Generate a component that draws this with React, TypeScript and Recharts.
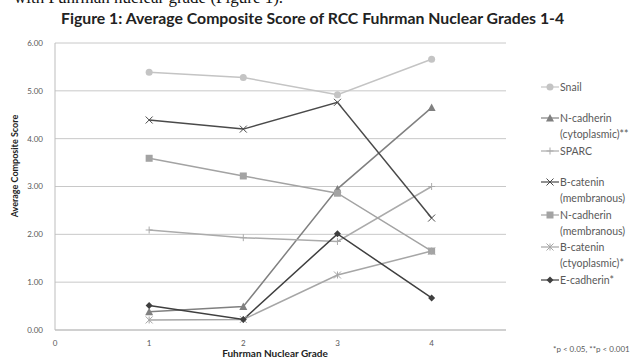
import type { ReactElement } from "react";
import { LineChart, Line, XAxis, YAxis, CartesianGrid } from "recharts";

// Fuhrman nuclear grade on x, average composite score on y
const grades = [1, 2, 3, 4];
const snail = [5.39, 5.28, 4.92, 5.66];
const nCadCyto = [0.38, 0.49, 2.95, 4.65];
const sparc = [2.09, 1.93, 1.85, 3.0];
const bCatMemb = [4.39, 4.2, 4.76, 2.34];
const nCadMemb = [3.59, 3.22, 2.86, 1.65];
const bCatCyto = [0.21, 0.22, 1.15, 1.65];
const eCad = [0.51, 0.22, 2.01, 0.67];

const yTicks = [0, 1, 2, 3, 4, 5, 6];
const xTicks = [0, 1, 2, 3, 4];

type Shape = "circle" | "triangle" | "plus" | "x" | "square" | "star" | "diamond";

interface SeriesDef {
  key: string;
  lines: string[];
  color: string;
  shape: Shape;
  values: number[];
}

const series: SeriesDef[] = [
  { key: "snail", lines: ["Snail"], color: "#c4c4c4", shape: "circle", values: snail },
  { key: "nCadCyto", lines: ["N-cadherin", "(cytoplasmic)**"], color: "#808080", shape: "triangle", values: nCadCyto },
  { key: "sparc", lines: ["SPARC"], color: "#ababab", shape: "plus", values: sparc },
  { key: "bCatMemb", lines: ["B-catenin", "(membranous)"], color: "#4a4a4a", shape: "x", values: bCatMemb },
  { key: "nCadMemb", lines: ["N-cadherin", "(membranous)"], color: "#a3a3a3", shape: "square", values: nCadMemb },
  { key: "bCatCyto", lines: ["B-catenin", "(ctyoplasmic)*"], color: "#a6a6a6", shape: "star", values: bCatCyto },
  { key: "eCad", lines: ["E-cadherin*"], color: "#3f3f3f", shape: "diamond", values: eCad },
];

const data = grades.map((g, i) => {
  const row: Record<string, number> = { grade: g };
  series.forEach((s) => {
    row[s.key] = s.values[i];
  });
  return row;
});

function Marker({ shape, cx, cy, color }: { shape: Shape; cx: number; cy: number; color: string }): ReactElement {
  const r = 3.5;
  switch (shape) {
    case "circle":
      return <circle cx={cx} cy={cy} r={r} fill={color} />;
    case "square":
      return <rect x={cx - r} y={cy - r} width={r * 2} height={r * 2} fill={color} />;
    case "triangle":
      return <path d={`M${cx},${cy - r - 0.5}L${cx + r + 0.5},${cy + r}L${cx - r - 0.5},${cy + r}Z`} fill={color} />;
    case "diamond":
      return <path d={`M${cx},${cy - r}L${cx + r},${cy}L${cx},${cy + r}L${cx - r},${cy}Z`} fill={color} />;
    case "plus":
      return <path d={`M${cx - r},${cy}H${cx + r}M${cx},${cy - r}V${cy + r}`} stroke={color} strokeWidth={1} />;
    case "x":
      return <path d={`M${cx - r},${cy - r}L${cx + r},${cy + r}M${cx + r},${cy - r}L${cx - r},${cy + r}`} stroke={color} strokeWidth={1} />;
    case "star":
      return (
        <path
          d={`M${cx - r},${cy - r}L${cx + r},${cy + r}M${cx + r},${cy - r}L${cx - r},${cy + r}M${cx},${cy - r}V${cy + r}`}
          stroke={color}
          strokeWidth={1}
        />
      );
  }
}

function LegendBlock(): ReactElement {
  const rowTops = [79, 110, 143, 174, 207, 239, 272];
  return (
    <div style={{ position: "absolute", left: 0, top: 0 }}>
      {series.map((s, i) => (
        <div key={s.key} style={{ position: "absolute", left: 541, top: rowTops[i], width: 95 }}>
          <svg width={18} height={12} style={{ position: "absolute", left: 0, top: 2 }}>
            <line x1={0} y1={6} x2={18} y2={6} stroke={s.color} strokeWidth={1.2} />
            <Marker shape={s.shape} cx={9} cy={6} color={s.color} />
          </svg>
          <div style={{ position: "absolute", left: 19, top: 0, fontSize: 10.5, lineHeight: "16px", color: "#595959", whiteSpace: "nowrap" }}>
            {s.lines.map((l) => (
              <div key={l}>{l}</div>
            ))}
          </div>
        </div>
      ))}
    </div>
  );
}

export default function App(): ReactElement {
  return (
    <div style={{ position: "absolute", left: 0, top: 0, width: 636, height: 360, overflow: "hidden", background: "#fff", fontFamily: "Lato, 'Open Sans', sans-serif" }}>
      <div style={{ position: "absolute", left: 14, top: -12, fontFamily: "'Liberation Serif', serif", fontSize: 17, color: "#111", whiteSpace: "nowrap" }}>
        with Fuhrman nuclear grade (Figure 1).
      </div>
      <div style={{ position: "absolute", left: 61, top: 8, fontSize: 15.8, fontWeight: 700, color: "#222", whiteSpace: "nowrap" }}>
        Figure 1: Average Composite Score of RCC Fuhrman Nuclear Grades 1-4
      </div>
      <div style={{ position: "absolute", left: 0, top: 0 }}>
        <LineChart width={636} height={360} data={data} margin={{ top: 43, right: 130, left: 0, bottom: 0 }}>
          <CartesianGrid horizontal vertical={false} stroke="#c8c8c8" />
          <XAxis
            dataKey="grade"
            type="number"
            domain={[0, 4.79]}
            ticks={xTicks}
            tickLine={false}
            axisLine={{ stroke: "#bdbdbd" }}
            tick={{ fontSize: 8, fill: "#595959" }}
            tickMargin={4}
            height={30}
          />
          <YAxis
            domain={[0, 6]}
            ticks={yTicks}
            tickFormatter={(v: number) => v.toFixed(2)}
            tickLine={false}
            axisLine={{ stroke: "#bdbdbd" }}
            tick={{ fontSize: 8, fill: "#595959" }}
            width={55}
            tickMargin={6}
          />
          {series.map((s) => (
            <Line
              key={s.key}
              dataKey={s.key}
              stroke={s.color}
              strokeWidth={1.5}
              isAnimationActive={false}
              activeDot={false}
              dot={(p: { cx?: number; cy?: number; index?: number }) => (
                <Marker key={`${s.key}-${p.index}`} shape={s.shape} cx={p.cx ?? 0} cy={p.cy ?? 0} color={s.color} />
              )}
            />
          ))}
        </LineChart>
      </div>
      {/* axis titles */}
      <div style={{ position: "absolute", left: 175, width: 200, top: 347, textAlign: "center", fontSize: 10, fontWeight: 700, color: "#222", lineHeight: "12px" }}>
        Fuhrman Nuclear Grade
      </div>
      <div
        style={{
          position: "absolute",
          left: 15 - 60,
          top: 166 - 6,
          width: 120,
          textAlign: "center",
          fontSize: 9,
          fontWeight: 700,
          color: "#222",
          lineHeight: "12px",
          transform: "rotate(-90deg)",
        }}
      >
        Average Composite Score
      </div>
      <LegendBlock />
      <div style={{ position: "absolute", left: 553, top: 344, fontSize: 8, color: "#595959", whiteSpace: "nowrap" }}>
        *p &lt; 0.05, **p &lt; 0.001
      </div>
    </div>
  );
}
